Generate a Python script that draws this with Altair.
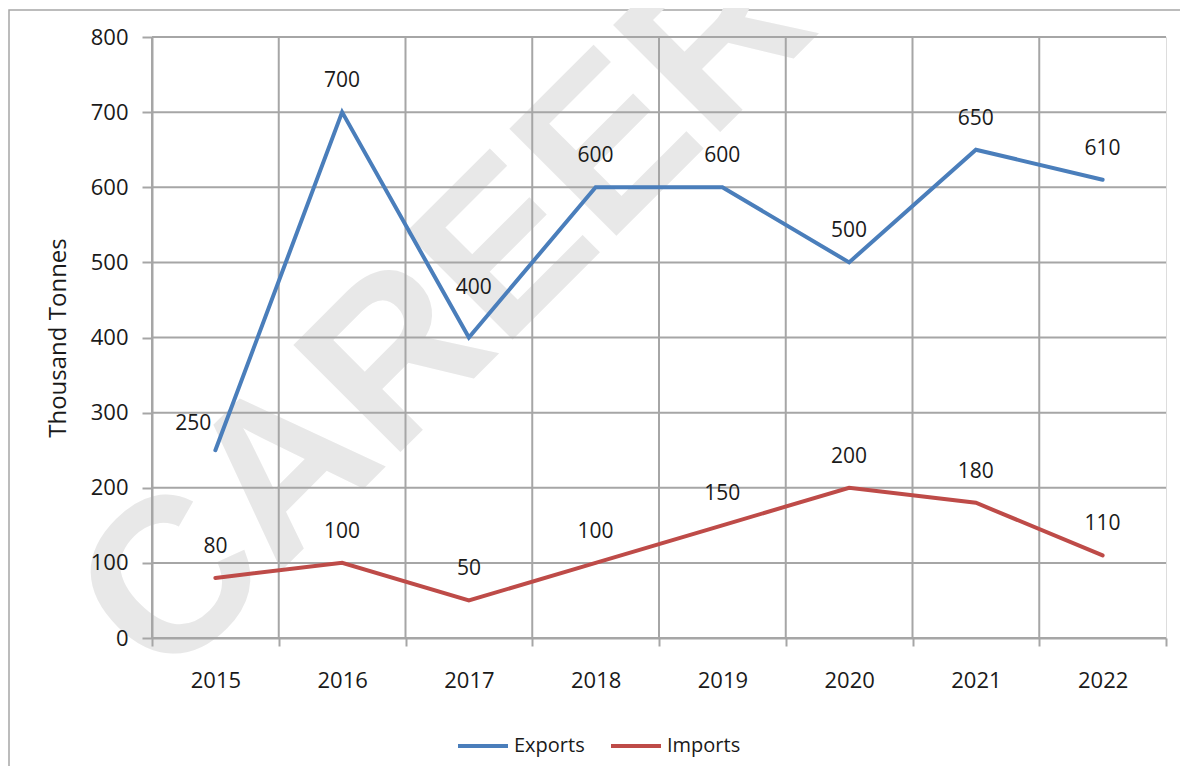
import altair as alt
import pandas as pd

years = ["2015", "2016", "2017", "2018", "2019", "2020", "2021", "2022"]
exports = [250, 700, 400, 600, 600, 500, 650, 610]
imports = [80, 100, 50, 100, 150, 200, 180, 110]
series_names = ["Exports", "Imports"]
series_colors = ["#4A7EBB", "#BE4B48"]
y_ticks = [0, 100, 200, 300, 400, 500, 600, 700, 800]

rows = []
for y, e in zip(years, exports):
    rows.append({"year": y, "value": e, "series": "Exports"})
for y, i in zip(years, imports):
    rows.append({"year": y, "value": i, "series": "Imports"})
df = pd.DataFrame(rows)
df["special"] = "none"
df.loc[(df["series"] == "Exports") & (df["year"] == "2015"), "special"] = "left"
df.loc[(df["series"] == "Exports") & (df["year"] == "2017"), "special"] = "high"

FONT = "Open Sans"
GRID = "#a6a6a6"
TXT = "#1a1a1a"

xscale = alt.Scale(type="band", domain=years, paddingInner=0, paddingOuter=0)
yscale = alt.Scale(domain=[0, 800], nice=False)

base = alt.Chart(df)
one = pd.DataFrame({"k": [0]})

border = alt.Chart(one).mark_rect(fill=None, stroke="#a6a6a6", strokeWidth=1.5).encode(
    x=alt.value(-143), x2=alt.value(1100), y=alt.value(-27), y2=alt.value(900)
)

watermark = alt.Chart(one).mark_text(
    text="CAREER", font="Liberation Sans", fontWeight="bold", fontSize=220,
    angle=315, color="#e8e8e8", align="center", baseline="middle"
).encode(x=alt.value(295), y=alt.value(275))

ygrid = alt.Chart(pd.DataFrame({"t": y_ticks})).mark_rule(color=GRID, strokeWidth=2).encode(
    y=alt.Y("t:Q", scale=yscale)
)
xgrid = alt.Chart(pd.DataFrame({"year": years})).mark_rule(color=GRID, strokeWidth=2).encode(
    x=alt.X("year:O", scale=xscale, bandPosition=0)
)

lines = base.mark_line(strokeWidth=4, strokeCap="round", strokeJoin="miter").encode(
    x=alt.X("year:O", scale=xscale, bandPosition=0.5,
            axis=alt.Axis(title=None, labelAngle=0, labelAlign="center",
                          tickBand="extent", grid=False, zindex=1,
                          tickSize=8, tickColor=GRID, tickWidth=2,
                          domainColor=GRID, domainWidth=2,
                          labelFont=FONT, labelFontSize=22, labelColor=TXT,
                          labelPadding=34)),
    y=alt.Y("value:Q", scale=yscale,
            axis=alt.Axis(title="Thousand Tonnes", values=y_ticks, grid=False, zindex=1,
                          tickSize=10, tickColor=GRID, tickWidth=2,
                          domainColor=GRID, domainWidth=2,
                          labelFont=FONT, labelFontSize=22, labelColor=TXT,
                          labelPadding=14, titleFont=FONT, titleFontSize=24,
                          titleFontWeight="normal", titleColor=TXT,
                          titlePadding=20)),
    color=alt.Color("series:N",
                    scale=alt.Scale(domain=series_names, range=series_colors),
                    legend=alt.Legend(title=None, orient="none", direction="horizontal",
                                      legendX=304, legendY=682, zindex=1,
                                      symbolType="stroke", symbolSize=2500,
                                      symbolStrokeWidth=4, labelFont=FONT,
                                      labelFontSize=20, labelColor=TXT,
                                      columnPadding=18, labelOffset=4)),
)

def label_layer(cond, dx, dy):
    return base.transform_filter(cond).mark_text(
        font=FONT, fontSize=21, color=TXT, dx=dx, dy=dy, baseline="middle", align="center"
    ).encode(
        x=alt.X("year:O", scale=xscale, bandPosition=0.5),
        y=alt.Y("value:Q", scale=yscale),
        text=alt.Text("value:Q"),
    )

labels = label_layer("datum.special == 'none'", 0, -31)
label_left = label_layer("datum.special == 'left'", -22, -26)
label_high = label_layer("datum.special == 'high'", 5, -50)

chart = alt.layer(border, watermark, ygrid, xgrid, lines, labels, label_left, label_high).properties(
    width=1014, height=601,
    autosize=alt.AutoSizeParams(type="none"),
    padding={"left": 144, "top": 29, "right": 14, "bottom": 128},
).configure_view(stroke=GRID, strokeWidth=2).configure(background="white")

chart.save("out.html", embed_options={"renderer": "svg", "actions": False})
